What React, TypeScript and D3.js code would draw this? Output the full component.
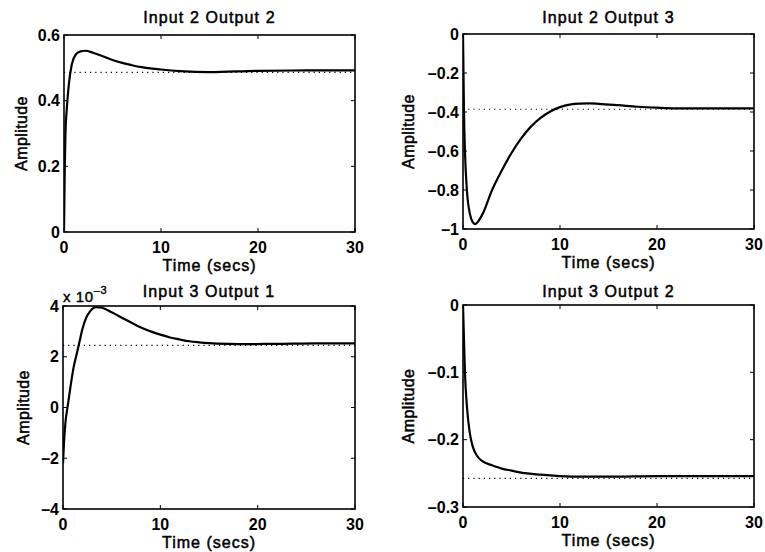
import React from "react";
import * as d3 from "d3";

// ---------- data ----------
const xTicks = [0, 10, 20, 30];
const xTickLabels = ["0", "10", "20", "30"];

const titles = ["Input 2 Output 2", "Input 2 Output 3", "Input 3 Output 1", "Input 3 Output 2"];

// Input 2 Output 2
const t22 = [0, 0.08, 0.15, 0.3, 0.5, 0.8, 1.2, 1.7, 2.2, 3, 4, 5, 6, 7, 8, 10, 12, 15, 20, 25, 30];
const y22 = [0, 0.2, 0.3, 0.38, 0.45, 0.51, 0.54, 0.55, 0.552, 0.546, 0.535, 0.524, 0.515, 0.508, 0.502, 0.495, 0.49, 0.487, 0.491, 0.492, 0.492];
const final22 = 0.486;
const yDomain22 = [0, 0.6];
const yTicks22 = [0, 0.2, 0.4, 0.6];
const yTickLabels22 = ["0", "0.2", "0.4", "0.6"];

// Input 2 Output 3
const t23 = [0, 0.05, 0.1, 0.2, 0.4, 0.7, 1.0, 1.25, 1.5, 2, 3, 4, 5, 6, 7, 8, 9, 10, 11, 12, 13, 14, 16, 18, 20, 22, 25, 30];
const y23 = [0, -0.2, -0.4, -0.6, -0.8, -0.92, -0.965, -0.975, -0.965, -0.925, -0.8, -0.7, -0.61, -0.535, -0.475, -0.43, -0.397, -0.375, -0.362, -0.357, -0.356, -0.358, -0.365, -0.373, -0.378, -0.381, -0.381, -0.381];
const final23 = -0.386;
const yDomain23 = [-1, 0];
const yTicks23 = [-1, -0.8, -0.6, -0.4, -0.2, 0];
const yTickLabels23 = ["–1", "–0.8", "–0.6", "–0.4", "–0.2", "0"];

// Input 3 Output 1 (x 10^-3)
const t31 = [0, 0.1, 0.25, 0.5, 0.8, 1.1, 1.4, 1.7, 2.0, 2.4, 2.8, 3.4, 4, 5, 6, 7, 8, 9, 10, 11, 12, 13, 14, 15, 17, 19, 22, 26, 30];
const y31 = [-2.2, -1.4, -0.6, 0.1, 0.9, 1.6, 2.1, 2.6, 3.1, 3.55, 3.8, 3.95, 3.93, 3.75, 3.55, 3.35, 3.15, 3.0, 2.87, 2.76, 2.68, 2.61, 2.57, 2.54, 2.51, 2.5, 2.51, 2.53, 2.53];
const final31 = 2.45;
const yDomain31 = [-4, 4];
const yTicks31 = [-4, -2, 0, 2, 4];
const yTickLabels31 = ["–4", "–2", "0", "2", "4"];

// Input 3 Output 2
const t32 = [0, 0.1, 0.2, 0.4, 0.7, 1, 1.5, 2, 3, 4, 5, 6, 8, 10, 12, 15, 20, 30];
const y32 = [0, -0.05, -0.1, -0.15, -0.19, -0.21, -0.225, -0.232, -0.238, -0.243, -0.246, -0.249, -0.252, -0.254, -0.255, -0.255, -0.254, -0.254];
const final32 = -0.2575;
const yDomain32 = [-0.3, 0];
const yTicks32 = [-0.3, -0.2, -0.1, 0];
const yTickLabels32 = ["–0.3", "–0.2", "–0.1", "0"];

// ---------- layout ----------
const W = 765;
const H = 552;
const boxes = [
  { l: 64, t: 35, r: 355, b: 232, titleY: 22.5, yLabelX: 27 },
  { l: 463, t: 34, r: 754, b: 229, titleY: 22.5, yLabelX: 414 },
  { l: 63, t: 306, r: 355, b: 509, titleY: 297, yLabelX: 29 },
  { l: 463, t: 305, r: 754, b: 507, titleY: 297, yLabelX: 414 },
];

const FONT = "'Liberation Sans', Arial, Helvetica, sans-serif";

type Box = { l: number; t: number; r: number; b: number; titleY: number; yLabelX: number };

type PanelProps = {
  box: Box;
  title: string;
  ts: number[];
  ys: number[];
  final: number;
  yDomain: number[];
  yTicks: number[];
  yTickLabels: string[];
  exponent?: boolean;
};

function Panel({ box, title, ts, ys, final, yDomain, yTicks, yTickLabels, exponent }: PanelProps) {
  const x = d3.scaleLinear().domain([0, 30]).range([box.l, box.r]);
  const y = d3.scaleLinear().domain(yDomain).range([box.b, box.t]);
  const pts = ts.map((t, i) => [t, ys[i]] as [number, number]);
  const line = d3
    .line<[number, number]>()
    .x((d) => x(d[0]))
    .y((d) => y(d[1]))
    .curve(d3.curveMonotoneX);
  const tl = 4;
  const cx = (box.l + box.r) / 2;
  const cy = (box.t + box.b) / 2;
  const clipId = `clip-${box.l}-${box.t}`;
  return (
    <g>
      <defs>
        <clipPath id={clipId}>
          <rect x={box.l} y={box.t - 2} width={box.r - box.l} height={box.b - box.t + 4} />
        </clipPath>
      </defs>
      {/* steady-state dotted line */}
      <line
        x1={x(0)}
        x2={x(30)}
        y1={y(final)}
        y2={y(final)}
        stroke="#000"
        strokeWidth={1.2}
        strokeDasharray="1.2 4"
      />
      {/* ticks */}
      {xTicks.map((v) => (
        <g key={"xt" + v}>
          <line x1={x(v)} x2={x(v)} y1={box.b} y2={box.b - tl} stroke="#000" strokeWidth={1} />
          <line x1={x(v)} x2={x(v)} y1={box.t} y2={box.t + tl} stroke="#000" strokeWidth={1} />
        </g>
      ))}
      {yTicks.map((v) => (
        <g key={"yt" + v}>
          <line x1={box.l} x2={box.l + tl} y1={y(v)} y2={y(v)} stroke="#000" strokeWidth={1} />
          <line x1={box.r} x2={box.r - tl} y1={y(v)} y2={y(v)} stroke="#000" strokeWidth={1} />
        </g>
      ))}
      {/* box */}
      <rect x={box.l} y={box.t} width={box.r - box.l} height={box.b - box.t} fill="none" stroke="#000" strokeWidth={1.6} />
      {/* curve */}
      <path d={line(pts) ?? ""} fill="none" stroke="#000" strokeWidth={2.2} clipPath={`url(#${clipId})`} />
      {/* tick labels */}
      {xTicks.map((v, i) => (
        <text
          key={"xl" + v}
          x={x(v)}
          y={box.b + 21}
          textAnchor="middle"
          fontFamily={FONT}
          fontWeight="bold"
          fontSize={16}
        >
          {xTickLabels[i]}
        </text>
      ))}
      {yTicks.map((v, i) => (
        <text
          key={"yl" + v}
          x={box.l - 4}
          y={y(v) + 5.5}
          textAnchor="end"
          fontFamily={FONT}
          fontWeight="bold"
          fontSize={16}
        >
          {yTickLabels[i]}
        </text>
      ))}
      {/* title */}
      <text
        x={cx}
        y={box.titleY}
        textAnchor="middle"
        fontFamily={FONT}
        fontSize={16}
        letterSpacing={1.1}
        stroke="#000"
        strokeWidth={0.5}
      >
        {title}
      </text>
      {/* x label */}
      <text
        x={cx}
        y={box.b + 39}
        textAnchor="middle"
        fontFamily={FONT}
        fontSize={16}
        letterSpacing={1}
        stroke="#000"
        strokeWidth={0.5}
      >
        Time (secs)
      </text>
      {/* y label */}
      <text
        transform={`translate(${box.yLabelX},${cy}) rotate(-90)`}
        textAnchor="middle"
        fontFamily={FONT}
        fontSize={16}
        letterSpacing={0.4}
        stroke="#000"
        strokeWidth={0.5}
      >
        Amplitude
      </text>
      {exponent && (
        <text x={box.l} y={box.t - 4} fontFamily={FONT} fontSize={15} letterSpacing={0.6} stroke="#000" strokeWidth={0.4}>
          x 10
          <tspan dy={-8} fontSize={11}>
            –3
          </tspan>
        </text>
      )}
    </g>
  );
}

export default function App() {
  const panels = [
    { ts: t22, ys: y22, final: final22, yDomain: yDomain22, yTicks: yTicks22, yTickLabels: yTickLabels22 },
    { ts: t23, ys: y23, final: final23, yDomain: yDomain23, yTicks: yTicks23, yTickLabels: yTickLabels23 },
    { ts: t31, ys: y31, final: final31, yDomain: yDomain31, yTicks: yTicks31, yTickLabels: yTickLabels31, exponent: true },
    { ts: t32, ys: y32, final: final32, yDomain: yDomain32, yTicks: yTicks32, yTickLabels: yTickLabels32 },
  ];
  return (
    <svg
      width={W}
      height={H}
      viewBox={`0 0 ${W} ${H}`}
      style={{ position: "absolute", left: 0, top: 0, background: "#fff" }}
    >
      <rect x={0} y={0} width={W} height={H} fill="#fff" />
      {panels.map((p, i) => (
        <Panel key={i} box={boxes[i]} title={titles[i]} {...p} />
      ))}
    </svg>
  );
}
